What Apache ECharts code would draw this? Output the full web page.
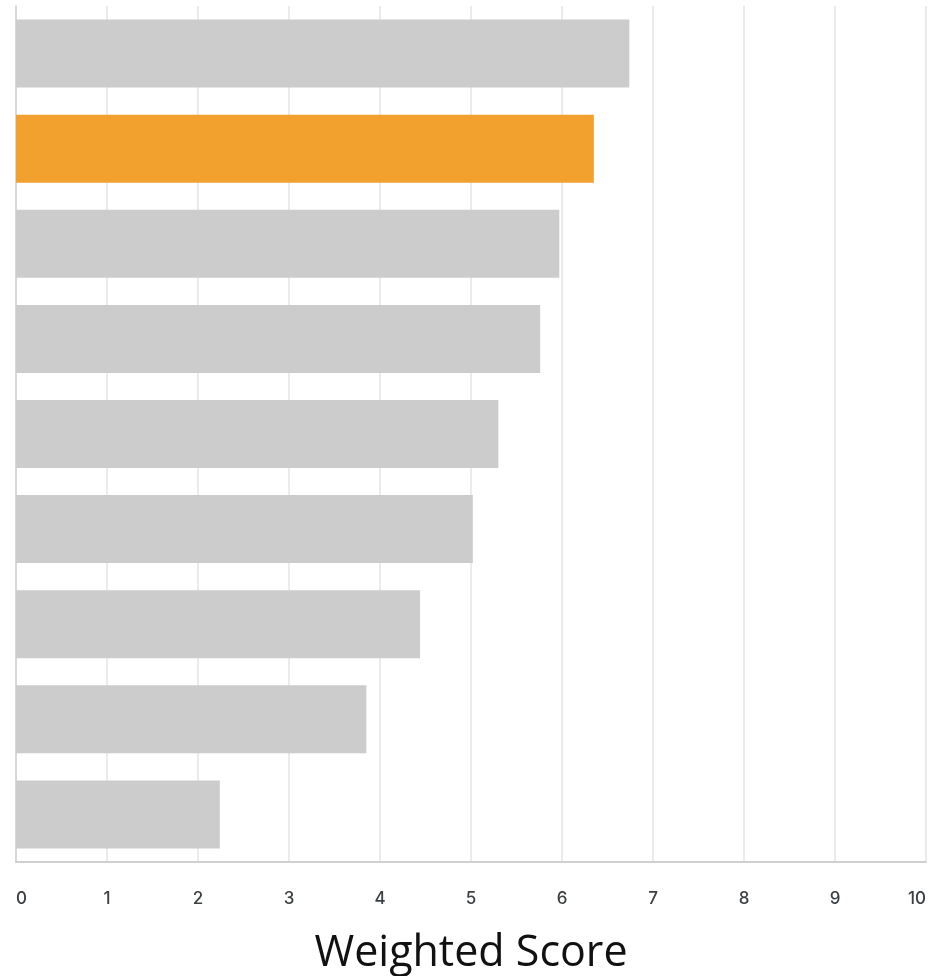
<!DOCTYPE html>
<html>
<head>
<meta charset="utf-8">
<script src="https://cdn.jsdelivr.net/npm/echarts@6/dist/echarts.min.js"></script>
<style>
  html, body { margin: 0; padding: 0; background: #ffffff; }
  #chart { width: 938px; height: 976px; }
</style>
</head>
<body>
<div id="chart"></div>
<script>
// Ranked options and their weighted scores (top to bottom)
const categories = ['Option 1', 'Option 2', 'Option 3', 'Option 4', 'Option 5', 'Option 6', 'Option 7', 'Option 8', 'Option 9'];
const scores = [6.74, 6.35, 5.97, 5.76, 5.30, 5.02, 4.44, 3.85, 2.24];
const highlightIndex = 1;
const xTicks = { min: 0, max: 10, interval: 1 };

const chart = echarts.init(document.getElementById('chart'));

chart.setOption({
  animation: false,
  grid: { left: 16, right: 12, top: 6, bottom: 114, containLabel: false, outerBoundsMode: 'none' },
  xAxis: {
    type: 'value',
    min: xTicks.min,
    max: xTicks.max,
    interval: xTicks.interval,
    name: 'Weighted Score',
    nameLocation: 'middle',
    nameGap: 67,
    nameTextStyle: { fontFamily: 'Open Sans', fontSize: 43, color: '#111111', lineHeight: 50 },
    axisLine: { show: true, lineStyle: { color: '#d0d0d0', width: 2 } },
    axisTick: { show: false },
    splitLine: { show: true, lineStyle: { color: '#ebebeb', width: 2 } },
    axisLabel: {
      margin: 28,
      fontFamily: 'Inter',
      fontWeight: 500,
      fontSize: 17,
      color: '#3c4043',
      alignMinLabel: 'left',
      alignMaxLabel: 'right'
    }
  },
  yAxis: {
    type: 'category',
    data: categories,
    inverse: true,
    axisLine: { show: true, lineStyle: { color: '#d8d8d8', width: 2 } },
    axisTick: { show: false },
    axisLabel: { show: false },
    splitLine: { show: false }
  },
  series: [{
    type: 'bar',
    data: scores.map((v, i) => ({
      value: v,
      itemStyle: { color: i === highlightIndex ? '#f2a02e' : '#cccccc' }
    })),
    barCategoryGap: '28.5%',
    silent: true
  }]
});
</script>
</body>
</html>
